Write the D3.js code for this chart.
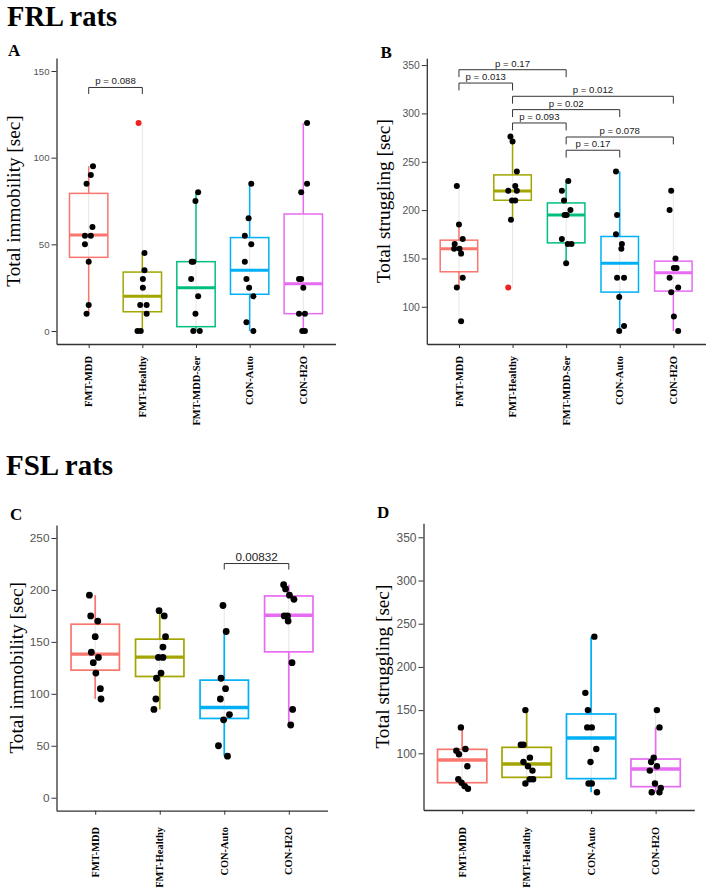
<!DOCTYPE html>
<html>
<head>
<meta charset="utf-8">
<script src="https://cdn.jsdelivr.net/npm/d3@7"></script>
<style>
  body { margin: 0; background: #fff; }
  svg { display: block; }
</style>
</head>
<body>
<svg id="chart" width="708" height="895"></svg>
<script>
// ---------------- DATA ----------------
const frlCats = ["FMT-MDD", "FMT-Healthy", "FMT-MDD-Ser", "CON-Auto", "CON-H2O"];
const fslCats = ["FMT-MDD", "FMT-Healthy", "CON-Auto", "CON-H2O"];
const groupColors = {
  "FMT-MDD": "#F8766D", "FMT-Healthy": "#A3A500", "FMT-MDD-Ser": "#00BF7D",
  "CON-Auto": "#00B0F6", "CON-H2O": "#E76BF3"
};

// Panel A: FRL total immobility
const aTicks = [0, 50, 100, 150];
const aVals = [
  [95, 90, 85, 60, 55, 55, 50, 40, 15, 10],
  [45, 35, 30, 25, 15, 15, 10, 0, 0],
  [80, 75, 40, 40, 30, 20, 10, 0, 0],
  [85, 65, 55, 50, 40, 30, 25, 20, 5, 0],
  [120, 85, 80, 30, 30, 25, 10, 10, 0, 0]
];
const aJit = [
  [.08, .04, -.04, .07, -.07, .04, -.07, 0, 0, -.04],
  [.04, .04, .01, .01, -.04, .08, .08, -.09, -.03],
  [.04, -.01, -.08, -.05, -.09, .04, -.01, -.05, .07],
  [.03, -.02, -.09, .03, -.09, -.06, -.01, .07, -.06, .07],
  [.07, .07, -.04, -.08, -.04, 0, -.08, .03, -.02, .03]
];
const aOut = [[], [120], [], [], []];
const aOutJit = [[], [-.07], [], [], []];
const aQ1 = [42.5, 11.1, 2.5, 21.2, 10];
const aMed = [55.4, 20, 25, 35, 27.3];
const aQ3 = [79.4, 34, 40, 53.9, 67.5];
const aLo = [10, 0, 0, 0, 0];
const aHi = [95, 45, 80, 85, 120];
const aSig = [{ from: 0, to: 1, y: 140.5, label: "p = 0.088" }];

// Panel B: FRL total struggling
const bTicks = [100, 150, 200, 250, 300, 350];
const bVals = [
  [225, 185, 170, 165, 160, 160, 155, 130, 120, 85],
  [276, 271, 240, 225, 220, 220, 210, 210, 190],
  [230, 220, 210, 200, 195, 195, 170, 165, 165, 145],
  [240, 195, 175, 165, 160, 130, 130, 110, 80, 75],
  [220, 200, 150, 140, 140, 130, 120, 115, 90, 75]
];
const bJit = [
  [-.04, 0, .07, -.08, -.09, .01, .04, .07, -.04, .04],
  [-.04, 0, .08, .05, -.08, .08, -.01, .05, -.03],
  [.04, -.08, -.04, .08, -.03, .01, -.08, .03, .1, 0],
  [-.07, -.05, -.07, .04, .03, -.05, .08, -.01, .08, -.01],
  [-.04, -.07, .04, .01, .06, -.07, .09, -.04, .01, .09]
];
const bOut = [[], [120], [], [], []];
const bOutJit = [[], [-.08], [], [], []];
const bQ1 = [136.2, 210.2, 166.1, 115.2, 116.2];
const bMed = [160, 219.8, 195, 145.1, 135.1];
const bQ3 = [168.9, 236.4, 207.4, 172.7, 147.2];
const bLo = [120, 190, 145, 75, 75];
const bHi = [185, 276, 230, 240, 150];
const bSig = [
  { from: 0, to: 2, y: 345.2, label: "p = 0.17" },
  { from: 0, to: 1, y: 331.4, label: "p = 0.013" },
  { from: 1, to: 4, y: 317.7, label: "p = 0.012" },
  { from: 1, to: 3, y: 303.9, label: "p = 0.02" },
  { from: 1, to: 2, y: 290.1, label: "p = 0.093" },
  { from: 2, to: 4, y: 275.6, label: "p = 0.078" },
  { from: 2, to: 3, y: 261.9, label: "p = 0.17" }
];

// Panel C: FSL total immobility
const cTicks = [0, 50, 100, 150, 200, 250];
const cVals = [
  [195, 175, 170, 155, 140, 135, 130, 120, 105, 95],
  [180, 175, 155, 145, 135, 135, 120, 115, 95, 85],
  [185, 160, 115, 105, 95, 80, 75, 50, 40],
  [205, 201, 195, 191, 175, 175, 170, 130, 85, 70]
];
const cJit = [
  [-.09, -.07, .04, 0, -.06, .05, -.03, .01, .08, .09],
  [-.01, .07, .09, .05, -.02, .05, .02, -.05, -.06, -.09],
  [-.02, .03, -.05, .02, -.06, .08, -.01, -.09, .05],
  [-.08, -.05, .01, .08, -.07, -.02, -.01, .05, .06, .03]
];
const cQ1 = [122.8, 116.7, 76.3, 140.4];
const cMed = [138.2, 135.3, 86.9, 175.7];
const cQ3 = [167, 152.6, 113.2, 194.2];
const cLo = [95, 85, 40, 70];
const cHi = [195, 180, 160, 205];
const cSig = [{ from: 2, to: 3, y: 225.4, label: "0.00832" }];

// Panel D: FSL total struggling
const dTicks = [100, 150, 200, 250, 300, 350];
const dVals = [
  [130, 105, 103, 99, 85, 70, 66, 62, 59],
  [150, 110, 110, 95, 90, 85, 80, 70, 70, 65],
  [235, 170, 150, 130, 130, 105, 90, 65, 65, 55],
  [150, 130, 95, 90, 85, 80, 65, 60, 55, 55]
];
const dJit = [
  [-.02, .05, -.09, -.05, .08, -.06, -.01, .04, .09],
  [-.02, -.09, -.05, .05, -.05, .02, .09, .1, .05, -.02],
  [.05, -.09, -.05, -.06, .01, .08, -.01, -.04, .01, .09],
  [.02, .06, -.03, -.07, .02, -.09, -.01, .08, -.06, .06]
];
const dQ1 = [66, 72.2, 70.7, 61.4];
const dMed = [92.2, 87.6, 117.7, 81.8];
const dQ3 = [104.6, 106.9, 145.5, 93.4];
const dLo = [60, 65, 55, 55];
const dHi = [130, 150, 235, 130];
const dSig = [];

// ---------------- DRAWING ----------------
const svg = d3.select("#chart");
svg.append("rect").attr("width", 708).attr("height", 895).attr("fill", "#fff");
const SERIF = "'Liberation Serif','Times New Roman',serif";
const SANS = "'Liberation Sans',Arial,sans-serif";

function panel(p) {
  const g = svg.append("g");
  const x = d3.scalePoint().domain(p.cats).range([p.x0, p.x1]).padding(0.6);
  const y = d3.scaleLinear().domain(p.yDom).range([p.yBottom, p.yTop]);
  const step = x.step();
  const bw = step * p.boxW;

  // y axis
  const ya = g.append("g").attr("transform", `translate(${p.x0},0)`)
    .call(d3.axisLeft(y).tickValues(p.ticks).tickSize(5).tickSizeOuter(0).tickPadding(2));
  ya.select(".domain").attr("stroke", "#333").attr("stroke-width", 1.3);
  ya.selectAll(".tick line").attr("stroke", "#333").attr("stroke-width", 1);
  ya.selectAll(".tick text").attr("fill", "#555").attr("font-family", SANS)
    .attr("font-size", p.tickFs);

  // x axis
  const xa = g.append("g").attr("transform", `translate(0,${p.yBottom})`)
    .call(d3.axisBottom(x).tickSize(4).tickSizeOuter(0).tickFormat(""));
  xa.select(".domain").attr("stroke", "#333").attr("stroke-width", 1.3);
  xa.selectAll(".tick line").attr("stroke", "#333").attr("stroke-width", 1);

  g.selectAll("text.xl").data(p.cats).join("text")
    .attr("class", "xl")
    .attr("transform", d => `translate(${x(d)},${p.xlTop}) rotate(-90)`)
    .attr("text-anchor", "end").attr("dy", "0.35em")
    .attr("font-family", SERIF).attr("font-weight", "bold")
    .attr("font-size", p.xlFs).text(d => d);

  // y title
  g.append("text")
    .attr("transform", `translate(${p.ytX},${(p.yTop + p.yBottom) / 2}) rotate(-90)`)
    .attr("text-anchor", "middle").attr("font-family", SERIF)
    .attr("font-size", p.ytFs).text(p.yTitle);

  // panel letter
  g.append("text").attr("x", p.letterX).attr("y", p.letterY)
    .attr("font-family", SERIF).attr("font-weight", "bold").attr("font-size", 17)
    .text(p.letter);

  p.cats.forEach((c, i) => {
    const cx = x(c), col = groupColors[c];
    const all = p.vals[i].concat(p.out[i] || []);
    // faint guide line
    g.append("line").attr("x1", cx).attr("x2", cx)
      .attr("y1", y(d3.min(all))).attr("y2", y(d3.max(all)))
      .attr("stroke", "#e6e6e6").attr("stroke-width", 1);
    // whiskers
    g.append("line").attr("x1", cx).attr("x2", cx).attr("y1", y(p.q3[i])).attr("y2", y(p.hi[i]))
      .attr("stroke", col).attr("stroke-width", p.sw);
    g.append("line").attr("x1", cx).attr("x2", cx).attr("y1", y(p.q1[i])).attr("y2", y(p.lo[i]))
      .attr("stroke", col).attr("stroke-width", p.sw);
    // box
    g.append("rect").attr("x", cx - bw / 2).attr("width", bw)
      .attr("y", y(p.q3[i])).attr("height", y(p.q1[i]) - y(p.q3[i]))
      .attr("fill", "none").attr("stroke", col).attr("stroke-width", p.sw);
    g.append("line").attr("x1", cx - bw / 2).attr("x2", cx + bw / 2)
      .attr("y1", y(p.med[i])).attr("y2", y(p.med[i]))
      .attr("stroke", col).attr("stroke-width", p.sw * 2);
  });

  // points
  p.cats.forEach((c, i) => {
    const cx = x(c);
    g.selectAll(null).data(p.vals[i].map((v, k) => ({ v, j: p.jit[i][k] }))).join("circle")
      .attr("cx", d => cx + d.j * step).attr("cy", d => y(d.v)).attr("r", p.r).attr("fill", "#000");
    if (p.out[i]) {
      g.selectAll(null).data(p.out[i].map((v, k) => ({ v, j: p.outJit[i][k] }))).join("circle")
        .attr("cx", d => cx + d.j * step).attr("cy", d => y(d.v)).attr("r", p.r).attr("fill", "#ee2222");
    }
  });

  // significance brackets
  p.sig.forEach(s => {
    const xa1 = x(p.cats[s.from]), xa2 = x(p.cats[s.to]);
    const yy = y(s.y), yt = yy + p.tipPx;
    g.append("path").attr("d", `M${xa1},${yt}V${yy}H${xa2}V${yt}`)
      .attr("fill", "none").attr("stroke", "#333").attr("stroke-width", 1);
    g.append("text").attr("x", (xa1 + xa2) / 2).attr("y", yy - 3)
      .attr("text-anchor", "middle").attr("font-family", SANS)
      .attr("font-size", p.sigFs).attr("fill", "#222").text(s.label);
  });
}

// Section titles
svg.append("text").attr("x", 7).attr("y", 25.5).attr("font-family", SERIF)
  .attr("font-weight", "bold").attr("font-size", 28.5).text("FRL rats");
svg.append("text").attr("x", 6).attr("y", 475).attr("font-family", SERIF)
  .attr("font-weight", "bold").attr("font-size", 29).text("FSL rats");

panel({
  cats: frlCats, x0: 56.5, x1: 335.5, yTop: 58, yBottom: 344, yDom: [-7.5, 157.5],
  ticks: aTicks, vals: aVals, jit: aJit, out: aOut, outJit: aOutJit,
  q1: aQ1, med: aMed, q3: aQ3, lo: aLo, hi: aHi, sig: aSig,
  boxW: 0.715, sw: 1.5, r: 3, tickFs: 9.6, xlFs: 10.5, xlTop: 356, ytX: 20, ytFs: 19.2,
  yTitle: "Total immobility [sec]", letter: "A", letterX: 8, letterY: 56, tipPx: 6.5, sigFs: 9.7
});
panel({
  cats: frlCats, x0: 426.8, x1: 705.5, yTop: 58.3, yBottom: 344, yDom: [61.5, 357],
  ticks: bTicks, vals: bVals, jit: bJit, out: bOut, outJit: bOutJit,
  q1: bQ1, med: bMed, q3: bQ3, lo: bLo, hi: bHi, sig: bSig,
  boxW: 0.70, sw: 1.5, r: 3, tickFs: 10.4, xlFs: 10.5, xlTop: 356, ytX: 390, ytFs: 19.2,
  yTitle: "Total struggling [sec]", letter: "B", letterX: 380.5, letterY: 58, tipPx: 7.4, sigFs: 9.6
});
panel({
  cats: fslCats, x0: 56.5, x1: 327.5, yTop: 525, yBottom: 810.7, yDom: [-12.5, 262.5],
  ticks: cTicks, vals: cVals, jit: cJit, out: [], outJit: [],
  q1: cQ1, med: cMed, q3: cQ3, lo: cLo, hi: cHi, sig: cSig,
  boxW: 0.75, sw: 1.7, r: 3.4, tickFs: 11.8, xlFs: 10.4, xlTop: 827, ytX: 22.5, ytFs: 19.2,
  yTitle: "Total immobility [sec]", letter: "C", letterX: 10, letterY: 520, tipPx: 6, sigFs: 11.7
});
panel({
  cats: fslCats, x0: 423.5, x1: 694.3, yTop: 523.3, yBottom: 810, yDom: [34.4, 366.2],
  ticks: dTicks, vals: dVals, jit: dJit, out: [], outJit: [],
  q1: dQ1, med: dMed, q3: dQ3, lo: dLo, hi: dHi, sig: dSig,
  boxW: 0.765, sw: 1.7, r: 3.2, tickFs: 12, xlFs: 10.4, xlTop: 827, ytX: 389, ytFs: 19.2,
  yTitle: "Total struggling [sec]", letter: "D", letterX: 377, letterY: 518, tipPx: 6, sigFs: 11
});
</script>
</body>
</html>
